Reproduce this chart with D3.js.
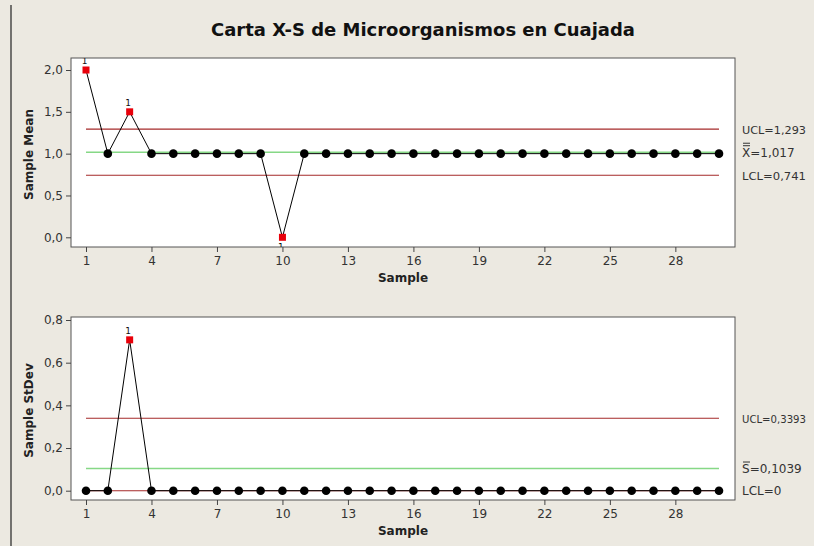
<!DOCTYPE html>
<html>
<head>
<meta charset="utf-8">
<script src="https://cdn.jsdelivr.net/npm/d3@7"></script>
<style>
  html, body { margin: 0; padding: 0; background: #ECE9E1; }
  svg { display: block; }
  text { font-family: "DejaVu Sans", Verdana, sans-serif; }
</style>
</head>
<body>
<svg id="chart" width="814" height="546"></svg>
<script>
// Sample numbers 1..30
const samples = [1,2,3,4,5,6,7,8,9,10,11,12,13,14,15,16,17,18,19,20,21,22,23,24,25,26,27,28,29,30];
// Subgroup means
const means = [2.0,1.0,1.5,1.0,1.0,1.0,1.0,1.0,1.0,0.0,1.0,1.0,1.0,1.0,1.0,1.0,1.0,1.0,1.0,1.0,1.0,1.0,1.0,1.0,1.0,1.0,1.0,1.0,1.0,1.0];
// Subgroup standard deviations
const stdevs = [0,0,0.707,0,0,0,0,0,0,0,0,0,0,0,0,0,0,0,0,0,0,0,0,0,0,0,0,0,0,0];
// Control limits
const xbarLimits = { ucl: 1.293, cl: 1.017, lcl: 0.741 };
const sLimits = { ucl: 0.3393, cl: 0.1039, lcl: 0 };
const xbarLabels = ["UCL=1,293", "=1,017", "LCL=0,741"];
const sLabels = ["UCL=0,3393", "=0,1039", "LCL=0"];
// Axis ticks
const xTicks = [1,4,7,10,13,16,19,22,25,28];
const meanTicks = [0,0.5,1.0,1.5,2.0];
const sdTicks = [0,0.2,0.4,0.6,0.8];

const svg = d3.select("#chart");
const fmt = v => d3.format(".1f")(v).replace(".", ",");

// frame line at left
svg.append("line").attr("x1", 11).attr("x2", 11).attr("y1", 5).attr("y2", 546)
  .attr("stroke", "#222").attr("stroke-width", 1.2);

svg.append("text").attr("x", 423).attr("y", 36).attr("text-anchor", "middle")
  .attr("font-size", 18).attr("font-weight", "bold").attr("fill", "#111")
  .attr("textLength", 424).attr("lengthAdjust", "spacingAndGlyphs")
  .text("Carta X-S de Microorganismos en Cuajada");

const x = d3.scaleLinear().domain([1, 30]).range([86, 719]);

function panel(opts) {
  const { top, bottom, y, values, limits, labels, ticks, ylab, barCount, id } = opts;
  const left = 71, right = 735;
  const g = svg.append("g");

  g.append("rect").attr("x", left).attr("y", top).attr("width", right - left).attr("height", bottom - top)
    .attr("fill", "#fff").attr("stroke", "#555").attr("stroke-width", 1);

  g.append("clipPath").attr("id", id).append("rect")
    .attr("x", left).attr("y", top).attr("width", right - left).attr("height", bottom - top);

  // y axis
  const yAxis = d3.axisLeft(y).tickValues(ticks).tickFormat(fmt).tickSize(5).tickPadding(3);
  const ya = g.append("g").attr("transform", `translate(${left},0)`).call(yAxis);
  ya.select(".domain").remove();
  ya.selectAll("line").attr("stroke", "#444");
  ya.selectAll("text").attr("font-size", 12).attr("fill", "#333").attr("font-family", "DejaVu Sans");

  // x axis
  const xAxis = d3.axisBottom(x).tickValues(xTicks).tickSize(5).tickPadding(4);
  const xa = g.append("g").attr("transform", `translate(0,${bottom})`).call(xAxis);
  xa.select(".domain").remove();
  xa.selectAll("line").attr("stroke", "#444");
  xa.selectAll("text").attr("font-size", 12).attr("fill", "#333").attr("font-family", "DejaVu Sans");

  g.append("text").attr("x", 403).attr("y", bottom + 35).attr("text-anchor", "middle")
    .attr("font-size", 12).attr("font-weight", "bold").attr("fill", "#222").text("Sample");

  g.append("text").attr("transform", `translate(33,${(top + bottom) / 2 + 2}) rotate(-90)`)
    .attr("text-anchor", "middle").attr("font-size", 12).attr("font-weight", "bold")
    .attr("fill", "#222").text(ylab);

  const plot = g.append("g").attr("clip-path", `url(#${id})`);

  // control limits
  [["ucl", "#A52A2A"], ["lcl", "#A52A2A"], ["cl", "#86D886"]].forEach(([k, c]) => {
    plot.append("line").attr("x1", x(1)).attr("x2", x(30))
      .attr("y1", y(limits[k])).attr("y2", y(limits[k]))
      .attr("stroke", c).attr("stroke-width", k === "cl" ? 1.6 : 1.1);
  });

  const data = samples.map((s, i) => ({ s, v: values[i] }));
  plot.append("path").datum(data)
    .attr("d", d3.line().x(d => x(d.s)).y(d => y(d.v)))
    .attr("fill", "none").attr("stroke", "#000").attr("stroke-width", 1);

  const out = d => d.v > limits.ucl || d.v < limits.lcl;
  plot.selectAll("circle").data(data.filter(d => !out(d))).join("circle")
    .attr("cx", d => x(d.s)).attr("cy", d => y(d.v)).attr("r", 4.3).attr("fill", "#000");
  plot.selectAll("rect.o").data(data.filter(out)).join("rect").attr("class", "o")
    .attr("x", d => x(d.s) - 3.5).attr("y", d => y(d.v) - 3.5).attr("width", 7).attr("height", 7)
    .attr("fill", "#E8000A");
  plot.selectAll("text.f").data(data.filter(out)).join("text").attr("class", "f")
    .attr("x", d => x(d.s) - 1.5)
    .attr("y", d => d.v > limits.ucl ? y(d.v) - 6 : y(d.v) + 13)
    .attr("text-anchor", "middle").attr("font-size", 9).attr("fill", "#111").text("1");

  // limit labels at right
  const ks = ["ucl", "cl", "lcl"];
  ks.forEach((k, i) => {
    const yy = y(limits[k]) + 4.5;
    if (k === "cl") {
      const t = g.append("text").attr("x", 742).attr("y", yy).attr("font-size", 12).attr("fill", "#333");
      t.append("tspan").text(barCount === 2 ? "X" : "S");
      t.append("tspan").text(labels[i]);
      // bars above the symbol
      for (let b = 0; b < barCount; b++) {
        g.append("line").attr("x1", 743).attr("x2", 750)
          .attr("y1", yy - 11 - b * 2.5).attr("y2", yy - 11 - b * 2.5)
          .attr("stroke", "#333").attr("stroke-width", 1);
      }
    } else {
      const t = g.append("text").attr("x", 742).attr("y", yy).attr("font-size", 12).attr("fill", "#333").text(labels[i]);
      // keep the longest label inside the right edge
      const w = t.node().getComputedTextLength();
      if (742 + w > 806) t.attr("font-size", 11).attr("textLength", 806 - 742).attr("lengthAdjust", "spacingAndGlyphs");
    }
  });
}

panel({
  id: "clipMean", top: 58, bottom: 247,
  y: d3.scaleLinear().domain([0, 2]).range([237.3, 70]),
  values: means, limits: xbarLimits, labels: xbarLabels, ticks: meanTicks,
  ylab: "Sample Mean", barCount: 2
});
panel({
  id: "clipSd", top: 317, bottom: 500,
  y: d3.scaleLinear().domain([0, 0.8]).range([490.7, 320]),
  values: stdevs, limits: sLimits, labels: sLabels, ticks: sdTicks,
  ylab: "Sample StDev", barCount: 1
});
</script>
</body>
</html>
